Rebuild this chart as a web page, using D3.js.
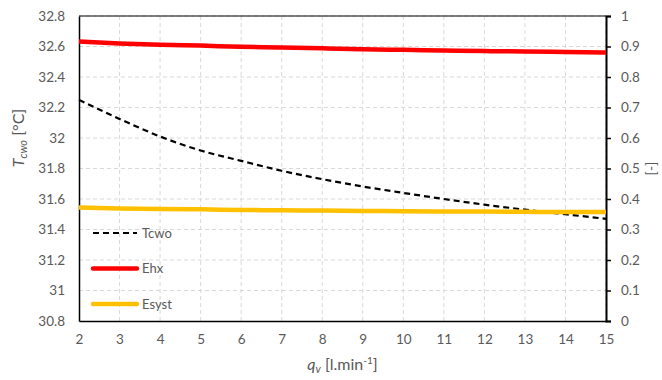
<!DOCTYPE html>
<html>
<head>
<meta charset="utf-8">
<script src="https://cdn.jsdelivr.net/npm/d3@7"></script>
<style>
  html, body { margin: 0; padding: 0; background: #fff; }
  svg text { font-family: Lato, "Open Sans", sans-serif; }
</style>
</head>
<body>
<svg id="chart" width="662" height="380"></svg>
<script>
// Flow rate q_v [l/min]
const flowRates = [2, 3, 4, 5, 6, 7, 8, 9, 10, 11, 12, 13, 14, 15];
// Outlet cold water temperature [°C] (left axis)
const tcwo = [32.25, 32.125, 32.01, 31.918, 31.85, 31.785, 31.73, 31.682, 31.64, 31.60, 31.563, 31.53, 31.50, 31.47];
// Heat exchanger efficiency [-] (right axis)
const ehx = [0.916, 0.910, 0.906, 0.903, 0.899, 0.897, 0.894, 0.891, 0.889, 0.887, 0.885, 0.884, 0.882, 0.880];
// System efficiency [-] (right axis)
const esyst = [0.372, 0.369, 0.367, 0.366, 0.364, 0.363, 0.362, 0.361, 0.360, 0.359, 0.359, 0.358, 0.357, 0.357];

const leftTicks = [30.8, 31, 31.2, 31.4, 31.6, 31.8, 32, 32.2, 32.4, 32.6, 32.8];
const rightTicks = [0, 0.1, 0.2, 0.3, 0.4, 0.5, 0.6, 0.7, 0.8, 0.9, 1];

const series = [
  { name: "Tcwo", values: tcwo, axis: "left", color: "#000000", width: 2.2, dash: "6,4" },
  { name: "Ehx", values: ehx, axis: "right", color: "#ff0000", width: 4.5, dash: null },
  { name: "Esyst", values: esyst, axis: "right", color: "#ffc000", width: 4.5, dash: null }
];

const svg = d3.select("#chart");
const m = { left: 79, right: 606, top: 16, bottom: 321 };

const x = d3.scaleLinear().domain([2, 15]).range([m.left, m.right]);
const yL = d3.scaleLinear().domain([30.8, 32.8]).range([m.bottom, m.top]);
const yR = d3.scaleLinear().domain([0, 1]).range([m.bottom, m.top]);

const labelColor = "#595959";
const gridColor = "#d9d9d9";

// Grid
const grid = svg.append("g");
grid.selectAll("line.v").data(flowRates.slice(1)).join("line")
  .attr("x1", d => x(d)).attr("x2", d => x(d))
  .attr("y1", m.top).attr("y2", m.bottom)
  .attr("stroke", gridColor).attr("stroke-width", 1).attr("stroke-dasharray", "4,3");
grid.selectAll("line.h").data(leftTicks.slice(1)).join("line")
  .attr("x1", m.left).attr("x2", m.right)
  .attr("y1", d => yL(d)).attr("y2", d => yL(d))
  .attr("stroke", gridColor).attr("stroke-width", 1).attr("stroke-dasharray", "4,3");

// Axes
const xAxis = svg.append("g").attr("transform", `translate(0,${m.bottom})`)
  .call(d3.axisBottom(x).tickValues(flowRates).tickFormat(d3.format("d")).tickSize(0).tickPadding(13));
const yAxisL = svg.append("g").attr("transform", `translate(${m.left},0)`)
  .call(d3.axisLeft(yL).tickValues(leftTicks).tickFormat(d => String(+d.toFixed(1))).tickSize(0).tickPadding(14));
const yAxisR = svg.append("g").attr("transform", `translate(${m.right},0)`)
  .call(d3.axisRight(yR).tickValues(rightTicks).tickFormat(d => String(+d.toFixed(1))).tickSize(5).tickPadding(10));

[xAxis, yAxisL, yAxisR].forEach(g => {
  g.selectAll("text").attr("fill", labelColor).attr("font-size", 13.5);
  g.select(".domain").attr("stroke", "#000").attr("stroke-width", 1.5);
  g.selectAll(".tick line").attr("stroke", "#000").attr("stroke-width", 1.5);
});
yAxisR.select(".domain").attr("stroke-width", 2);

// Top frame line
svg.append("line")
  .attr("x1", m.left).attr("x2", m.right).attr("y1", m.top).attr("y2", m.top)
  .attr("stroke", "#000").attr("stroke-width", 1.2);

// Series lines
const lineFor = s => d3.line()
  .x((d, i) => x(flowRates[i]))
  .y(d => (s.axis === "left" ? yL(d) : yR(d)))
  .curve(d3.curveMonotoneX);

series.forEach(s => {
  svg.append("path")
    .datum(s.values)
    .attr("d", lineFor(s))
    .attr("fill", "none")
    .attr("stroke", s.color)
    .attr("stroke-width", s.width)
    .attr("stroke-dasharray", s.dash);
});

// Legend
const legend = svg.append("g");
series.forEach((s, i) => {
  const ly = 233 + i * 35.5;
  legend.append("line")
    .attr("x1", 93).attr("x2", 137).attr("y1", ly).attr("y2", ly)
    .attr("stroke", s.color).attr("stroke-width", s.width)
    .attr("stroke-dasharray", s.dash).attr("stroke-linecap", s.dash ? "butt" : "round");
  legend.append("text")
    .attr("x", 142).attr("y", ly + 4.5)
    .attr("fill", labelColor).attr("font-size", 13)
    .text(s.name);
});

// Axis titles
const xt = svg.append("text")
  .attr("x", (m.left + m.right) / 2).attr("y", 370)
  .attr("text-anchor", "middle").attr("fill", labelColor).attr("font-size", 16);
xt.append("tspan").attr("font-style", "italic").text("q");
xt.append("tspan").attr("font-style", "italic").attr("font-size", 11).attr("dy", 3).text("v");
xt.append("tspan").attr("dy", -3).text(" [l.min");
xt.append("tspan").attr("font-size", 10).attr("dy", -6).text("-1");
xt.append("tspan").attr("dy", 6).text("]");

const yt = svg.append("text")
  .attr("transform", `translate(24,${138}) rotate(-90)`)
  .attr("text-anchor", "middle").attr("fill", labelColor).attr("font-size", 16);
yt.append("tspan").attr("font-style", "italic").text("T");
yt.append("tspan").attr("font-style", "italic").attr("font-size", 11).attr("dy", 3).text("cwo");
yt.append("tspan").attr("dy", -3).text(" [°C]");

svg.append("text")
  .attr("transform", `translate(656,${(m.top + m.bottom) / 2}) rotate(-90)`)
  .attr("text-anchor", "middle").attr("fill", labelColor).attr("font-size", 14)
  .text("[-]");
</script>
</body>
</html>
